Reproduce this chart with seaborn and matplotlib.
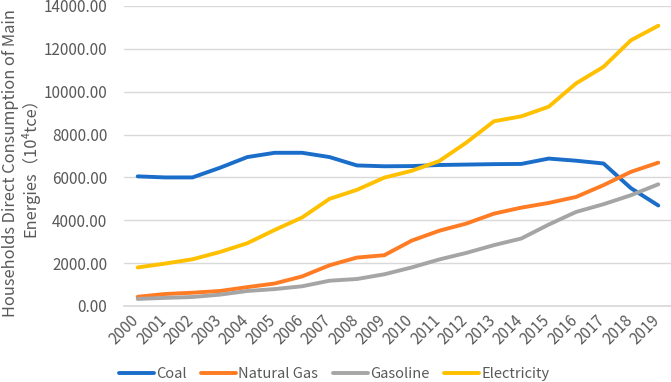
import matplotlib
matplotlib.use("Agg")
import matplotlib.pyplot as plt
import matplotlib.transforms as mtransforms
import seaborn as sns
import pandas as pd
from matplotlib.ticker import FuncFormatter, MultipleLocator

years = [str(y) for y in range(2000, 2020)]
coal = [6050, 6000, 6000, 6450, 6950, 7150, 7150, 6950, 6560, 6520, 6530, 6580,
        6600, 6620, 6630, 6880, 6780, 6650, 5500, 4690]
natural_gas = [430, 560, 620, 700, 880, 1050, 1380, 1900, 2260, 2370, 3050, 3510,
               3850, 4310, 4590, 4810, 5090, 5640, 6260, 6690]
gasoline = [330, 380, 420, 530, 700, 790, 920, 1180, 1260, 1480, 1800, 2170,
            2480, 2840, 3150, 3800, 4390, 4750, 5170, 5680]
electricity = [1800, 1980, 2180, 2520, 2930, 3550, 4130, 5000, 5420, 5990, 6310, 6760,
               7630, 8620, 8850, 9300, 10390, 11160, 12400, 13080]
series_names = ["Coal", "Natural Gas", "Gasoline", "Electricity"]
colors = ["#1A6DC9", "#FF7B24", "#A5A5A5", "#FFC000"]

df = pd.DataFrame({"Year": years, "Coal": coal, "Natural Gas": natural_gas,
                   "Gasoline": gasoline, "Electricity": electricity})
long = df.melt(id_vars="Year", var_name="Series", value_name="Value")

sns.set_theme(style="white")
plt.rcParams["font.family"] = ["Noto Sans CJK SC", "DejaVu Sans"]

fig = plt.figure(figsize=(6.71, 3.82), dpi=100)
W, H = 671, 382
ax = fig.add_axes([124 / W, (H - 306) / H, 548 / W, 300 / H])

sns.lineplot(data=long, x="Year", y="Value", hue="Series", hue_order=series_names,
             palette=colors, linewidth=2.8, ax=ax, legend=True, sort=False)

ax.set_xlim(-0.5, 19.5)
ax.set_ylim(0, 14000)
ax.yaxis.set_major_locator(MultipleLocator(2000))
ax.yaxis.set_major_formatter(FuncFormatter(lambda v, p: f"{v:.2f}"))
ax.grid(axis="y", color="#D9D9D9", linewidth=1)
ax.set_axisbelow(True)
for s in ["top", "right", "left"]:
    ax.spines[s].set_visible(False)
ax.spines["bottom"].set_color("#D9D9D9")
ax.tick_params(axis="both", length=0, colors="#595959", labelsize=11)
ax.tick_params(axis="y", pad=12)
ax.tick_params(axis="x", pad=2)
offset = mtransforms.ScaledTranslation(5 / 100, -3 / 100, fig.dpi_scale_trans)
for lab in ax.get_xticklabels():
    lab.set_rotation(45)
    lab.set_ha("right")
    lab.set_va("top")
    lab.set_transform(lab.get_transform() + offset)
ax.set_xlabel("")
ax.set_ylabel("")

fig.text(21 / W, 1 - 163 / H,
         "Households Direct Consumption of Main\nEnergies（10⁴tce）",
         rotation=90, ha="center", va="center", ma="center",
         fontsize=11.8, color="#595959", linespacing=1.1)

handles, labels = ax.get_legend_handles_labels()
ax.legend_.remove()
fig.legend(handles, labels, loc="center", bbox_to_anchor=(334 / W, 1 - 374 / H),
           ncol=4, frameon=False, fontsize=10.5, handlelength=2.4,
           columnspacing=1.0, handletextpad=0.15, labelcolor="#595959")

fig.savefig("out.png", dpi=100)
